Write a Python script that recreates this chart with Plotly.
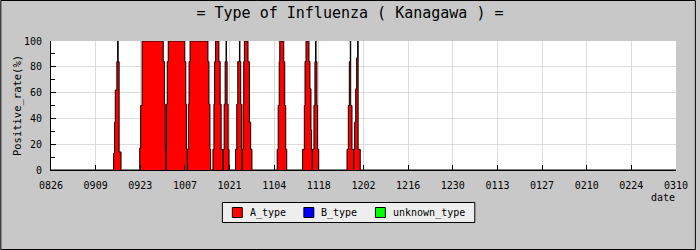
import plotly.graph_objects as go

# ---- data -------------------------------------------------------------
# days since 2022-08-26 at which the A_type positive rate changes (step data)
a_days = [0.00,
          19.63, 19.94, 20.16, 20.65, 20.90, 21.06, 21.37, 21.96,
          27.82, 28.13, 28.57, 35.20, 35.61, 35.83, 36.01,
          36.07, 36.23, 36.45, 36.76, 41.96, 42.27, 42.46, 42.74,
          42.80, 43.08, 43.30, 43.61, 49.22, 49.53, 49.84, 50.06,
          50.78, 51.09, 51.31, 51.62, 52.65, 53.05, 53.36, 53.96,
          54.02, 54.30, 54.61, 54.89, 55.05, 55.23, 55.55, 55.83,
          57.85, 58.26, 58.57, 59.10, 59.25, 59.50, 59.75, 59.91,
          59.97, 60.22, 60.44, 60.65, 61.78, 62.21, 62.62, 63.02,
          70.93, 71.25, 71.56, 71.74, 72.99, 73.30, 73.61, 73.93,
          78.91, 79.44, 79.66, 79.97, 80.90, 81.21, 81.53, 81.71, 81.93,
          81.99, 82.46, 82.77, 82.96, 83.12, 83.40, 83.58, 83.96,
          92.83, 93.24, 93.55, 93.86, 93.99, 94.39, 94.89,
          94.95, 95.23, 95.55, 95.86, 96.17, 96.32, 96.98,
          196.0]
a_type = [0,
          13, 37, 62, 84, 100, 84, 14, 0,
          17, 50, 100, 84, 51, 16, 0,
          16, 51, 84, 100, 84, 51, 16, 0,
          16, 51, 84, 100, 84, 51, 16, 0,
          16, 51, 84, 100, 84, 51, 16, 0,
          16, 51, 84, 100, 84, 51, 16, 0,
          16, 51, 84, 100, 84, 51, 16, 0,
          16, 51, 84, 100, 84, 37, 16, 0,
          16, 50, 84, 100, 84, 50, 16, 0,
          16, 50, 84, 100, 84, 63, 31, 16, 0,
          16, 50, 84, 100, 84, 50, 16, 0,
          16, 50, 84, 100, 50, 16, 0,
          16, 37, 63, 87, 100, 16, 0,
          0]

series_names = ["A_type", "B_type", "unknown_type"]
series_colors = ["#ff0000", "#0000ff", "#00ff00"]

tick_days = [0, 14, 28, 42, 56, 70, 84, 98, 112, 126, 140, 154, 168, 182, 196]
tick_labels = ["0826", "0909", "0923", "1007", "1021", "1104", "1118", "1202",
               "1216", "1230", "0113", "0127", "0210", "0224", "0310"]

# ---- figure -----------------------------------------------------------
MONO = "DejaVu Sans Mono"
fig = go.Figure()

fig.add_trace(go.Scatter(
    x=a_days, y=a_type, mode="lines", line_shape="hv",
    line=dict(color="black", width=1),
    fill="tozeroy", fillcolor=series_colors[0],
    showlegend=False, hoverinfo="skip"))

W, H = 700, 250
ml, mr, mt, mb = 51, 20, 41, 80
pw, ph = W - ml - mr, H - mt - mb


def px(x):   # pixel column -> paper x
    return (x - ml) / pw


def py(y):   # pixel row -> paper y
    return (H - mb - y) / ph


shapes = [
    # outer frame
    dict(type="rect", xref="paper", yref="paper",
         x0=px(0.5), x1=px(W - 0.5), y0=py(H - 0.5), y1=py(0.5),
         line=dict(color="black", width=1), fillcolor="rgba(0,0,0,0)", layer="above"),
    # legend box
    dict(type="rect", xref="paper", yref="paper",
         x0=px(223.5), x1=px(477.5), y0=py(222.5), y1=py(202.5),
         line=dict(color="black", width=1), fillcolor="#eeeeee", layer="above"),
]
annotations = [dict(text="date", xref="paper", yref="paper", x=px(681), y=py(197),
                    xanchor="right", yanchor="middle", showarrow=False,
                    font=dict(family=MONO, size=10, color="black"))]

legend_x = [233, 305, 377]
for name, col, lx in zip(series_names, series_colors, legend_x):
    shapes.append(dict(type="rect", xref="paper", yref="paper",
                       x0=px(lx + 0.5), x1=px(lx + 10.5), y0=py(217.5), y1=py(207.5),
                       line=dict(color="black", width=1), fillcolor=col, layer="above"))
    annotations.append(dict(text=name, xref="paper", yref="paper", x=px(lx + 16), y=py(212.5),
                            xanchor="left", yanchor="middle", showarrow=False,
                            font=dict(family=MONO, size=10, color="black")))

fig.update_layout(
    width=W, height=H,
    margin=dict(l=ml, r=mr, t=mt, b=mb),
    paper_bgcolor="#c8c8c8", plot_bgcolor="white",
    font=dict(family=MONO, size=10, color="black"),
    title=dict(text="= Type of Influenza ( Kanagawa ) =",
               font=dict(family=MONO, size=15, color="black"),
               x=0.5, xanchor="center", y=1 - 13 / H, yanchor="middle"),
    showlegend=False,
    xaxis=dict(range=[0, 196], tickmode="array", tickvals=tick_days, ticktext=tick_labels,
               ticks="inside", ticklen=5, tickcolor="black", tickwidth=1,
               showline=True, linecolor="black", linewidth=1,
               showgrid=True, gridcolor="#dcdcdc", zeroline=False,
               ticklabelstandoff=6, fixedrange=True),
    yaxis=dict(range=[0, 100], dtick=20, tick0=0,
               ticks="inside", ticklen=5, tickcolor="black", tickwidth=1,
               minor=dict(dtick=10, ticks="inside", ticklen=4, tickcolor="black", showgrid=False),
               showline=True, linecolor="black", linewidth=1,
               showgrid=True, gridcolor="#dcdcdc", zeroline=False,
               ticklabelstandoff=6,
               title=dict(text="Positive_rate(%)", font=dict(family=MONO, size=10.5), standoff=0)),
    annotations=annotations,
    shapes=shapes,
)

fig.write_html("out.html")
